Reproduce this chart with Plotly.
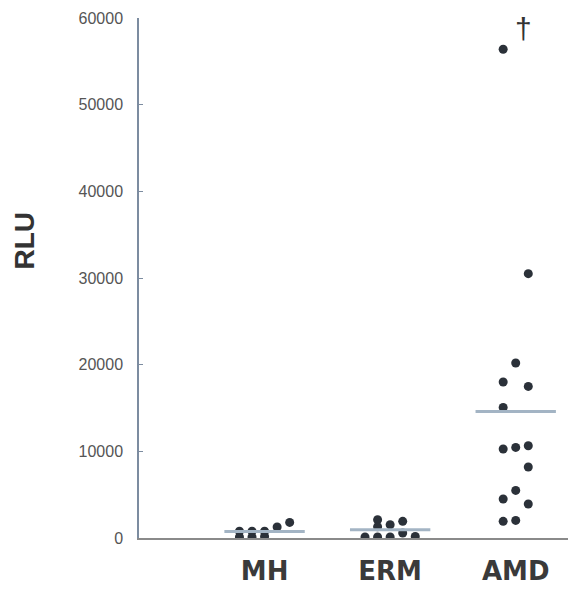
import plotly.graph_objects as go

categories = ["MH", "ERM", "AMD"]
positions = [1, 2, 3]

mh_values = [115, 115, 185, 780, 780, 780, 1270, 1800]
mh_offsets = [-0.2, -0.1, 0.0, -0.2, -0.1, 0.0, 0.1, 0.2]

erm_values = [115, 115, 2110, 1300, 115, 1530, 1920, 580, 185]
erm_offsets = [-0.2, -0.1, -0.1, -0.1, 0.0, 0.0, 0.1, 0.1, 0.2]

amd_values = [56400, 30500, 20190, 18000, 17490, 15070, 10270, 10450, 10650,
              8190, 5490, 4500, 3920, 1920, 2030]
amd_offsets = [-0.1, 0.1, 0.0, -0.1, 0.1, -0.1, -0.1, 0.0, 0.1,
               0.1, 0.0, -0.1, 0.1, -0.1, 0.0]

group_means = [760, 960, 14600]

y_ticks = [0, 10000, 20000, 30000, 40000, 50000, 60000]

dot_color = "#2b3139"
mean_color = "#a3b4c4"
font_family = "Liberation Sans, Arial, sans-serif"
cat_font = "DejaVu Sans, sans-serif"

fig = go.Figure()

groups = [(mh_values, mh_offsets), (erm_values, erm_offsets), (amd_values, amd_offsets)]
for pos, (vals, offs) in zip(positions, groups):
    fig.add_trace(go.Scatter(
        x=[pos + o for o in offs], y=vals, mode="markers",
        marker=dict(size=9, color=dot_color),
        showlegend=False, hoverinfo="y"))

for pos, m in zip(positions, group_means):
    fig.add_trace(go.Scatter(
        x=[pos - 0.32, pos + 0.32], y=[m, m], mode="lines",
        line=dict(color=mean_color, width=3),
        showlegend=False, hoverinfo="y"))

# dagger marker next to the AMD maximum
amd_max = max(amd_values)
fig.add_annotation(x=positions[2] + 0.06, y=amd_max + 2400, text="†",
                   showarrow=False, font=dict(size=30, color="#333333", family=font_family))

# y-axis title
fig.add_annotation(xref="paper", yref="paper", x=0, y=0.572, xshift=-114,
                   text="<b>RLU</b>", textangle=-90, showarrow=False,
                   xanchor="center", yanchor="middle",
                   font=dict(size=28, color="#333333", family=font_family))

fig.update_layout(
    width=568, height=586,
    margin=dict(l=131, r=0, t=10, b=56),
    paper_bgcolor="white", plot_bgcolor="white",
    font=dict(family=font_family, color="#555555"),
)

fig.update_xaxes(
    range=[0, 3.48], tickvals=positions,
    ticktext=["<b>" + c + "</b>" for c in categories],
    showgrid=False, zeroline=False, showline=True, linecolor="#8a8a8a", linewidth=1.5,
    ticks="", tickfont=dict(size=26, color="#3a3a3a", family=cat_font),
    ticklabelstandoff=9,
)

fig.update_yaxes(
    range=[0, 60000], tickvals=y_ticks, ticktext=[str(t) for t in y_ticks],
    showgrid=False, zeroline=False, showline=True, linecolor="#7c8ca0", linewidth=1.5,
    ticks="inside", ticklen=4, tickcolor="#7c8ca0",
    tickfont=dict(size=16, color="#555555", family=font_family),
    ticklabelstandoff=11,
)

fig.write_html("out.html")
